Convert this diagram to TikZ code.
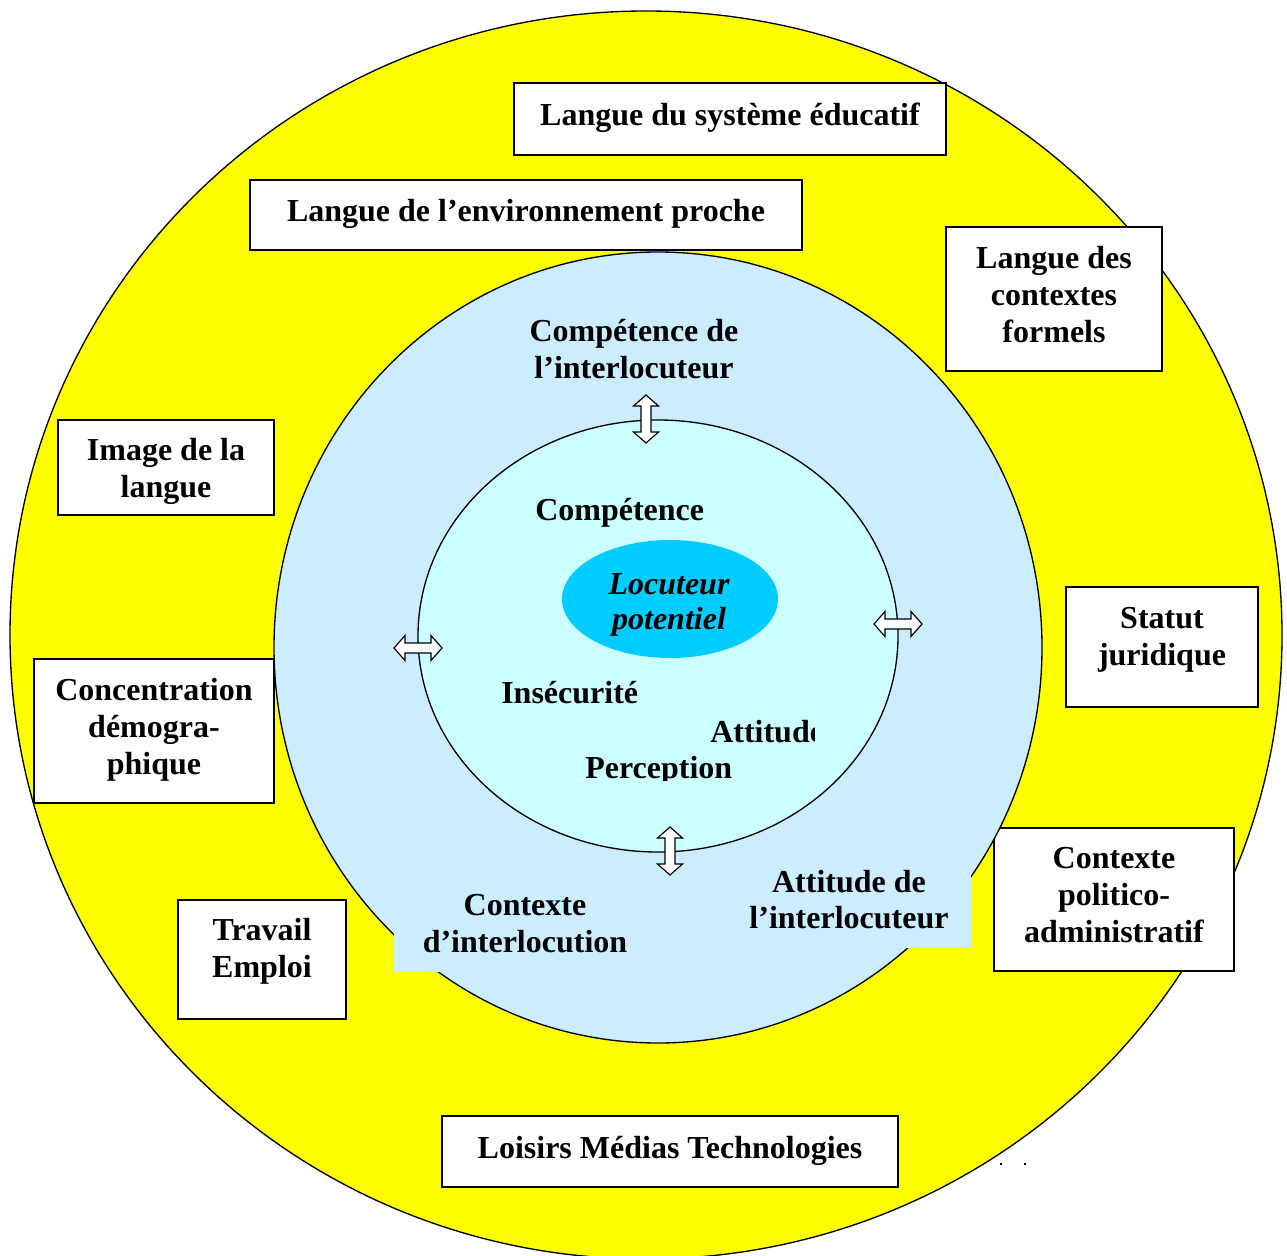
\documentclass[tikz,border=0pt]{standalone}
\usepackage{fontspec}
\setmainfont{Liberation Serif}
\usetikzlibrary{fit,shapes.geometric}
\definecolor{yel}{HTML}{FFFF00}
\definecolor{blu}{HTML}{CCECFF}
\definecolor{cya}{HTML}{CCFFFF}
\definecolor{core}{HTML}{00CCFF}
\newcommand\dblarrowV[1]{%
  \draw[line width=0.9pt, fill=white, shift={#1}]
    (0,-24) -- (12.5,-13) -- (5,-13) -- (5,13) -- (12.5,13) -- (0,24)
    -- (-12.5,13) -- (-5,13) -- (-5,-13) -- (-12.5,-13) -- cycle;}
\newcommand\dblarrowH[1]{%
  \draw[line width=0.9pt, fill=white, shift={#1}]
    (-24,0) -- (-13,12.5) -- (-13,5) -- (13,5) -- (13,12.5) -- (24,0)
    -- (13,-12.5) -- (13,-5) -- (-13,-5) -- (-13,-12.5) -- cycle;}
\begin{document}
\begin{tikzpicture}[x=0.75pt,y=-0.75pt,
  txt/.style={font=\bfseries\fontsize{24}{27.75}\selectfont, align=center, inner sep=0},
  box/.style={draw, line width=1.1pt, fill=white, inner sep=0},
  ring/.style={draw, line width=1pt}]
\useasboundingbox (0,0) rectangle (1287,1255);
% outer yellow ring
\filldraw[ring, fill=yel] (646,635) ellipse [x radius=636, y radius=624];
% boxes
\node[box, fit={(514,83)(946,155)}] (educ) {};
\node[box, fit={(250,180)(802,250)}] (env) {};
\node[box, fit={(946,227)(1162,371)}] (form) {};
\node[box, fit={(58,420)(274,515)}] (img) {};
\node[box, fit={(34,659)(274,803)}] (demo) {};
\node[box, fit={(1066,587)(1258,707)}] (stat) {};
\node[box, fit={(994,828)(1234,971)}] (poli) {};
\node[box, fit={(178,900)(346,1019)}] (trav) {};
\node[box, fit={(442,1116)(898,1187)}] (lois) {};
\node[txt, anchor=base] (educT) at (730,126) {Langue du système éducatif};
\node[txt, anchor=base] (envT) at (526,222) {Langue de l’environnement proche};
\node[txt, anchor=base] (formT) at (1054,342) {Langue des\\contextes\\formels};
\node[txt, anchor=base] (imgT) at (166,497) {Image de la\\langue};
\node[txt, anchor=base] (demoT) at (154,774) {Concentration\\démogra-\\phique};
\node[txt, anchor=base] (statT) at (1162,665) {Statut\\juridique};
\node[txt, anchor=base] (poliT) at (1114,942) {Contexte\\politico-\\administratif};
\node[txt, anchor=base] (travT) at (262,977) {Travail\\Emploi};
\node[txt, anchor=base] (loisT) at (670,1158) {Loisirs Médias Technologies};
% blue ring
\filldraw[ring, fill=blu] (658,647.5) ellipse [x radius=384, y radius=395.5];
\fill[blu] (394,890) rectangle (650,972);
\fill[blu] (740,870) rectangle (971,948);
\node[txt, anchor=base] (ctxA) at (525,915) {Contexte};
\node[txt, anchor=base] (ctxB) at (525,952) {d’interlocution};
\node[txt, anchor=base] (attA) at (849,892) {Attitude de};
\node[txt, anchor=base] (attB) at (849,928) {l’interlocuteur};
\node[txt, anchor=base] (compA) at (634,341) {Compétence de};
\node[txt, anchor=base] (compB) at (634,378) {l’interlocuteur};
% inner circle
\filldraw[ring, fill=cya] (658,636) ellipse [x radius=240, y radius=216];
\node[ellipse, fill=core, inner sep=0, minimum width=162pt, minimum height=88.5pt] (loc) at (670,599) {};
\node[txt, anchor=base, font=\bfseries\itshape\fontsize{24}{27.75}\selectfont] (locA) at (669,594) {Locuteur};
\node[txt, anchor=base, font=\bfseries\itshape\fontsize{24}{27.75}\selectfont] (locB) at (669,629) {potentiel};
\node[txt, anchor=base west] (comp) at (535,520) {Compétence};
\node[txt, anchor=base west] (inse) at (501,703) {Insécurité};
\begin{scope}
  \clip (700,700) rectangle (814,770);
  \node[txt, anchor=base west] (atti) at (710,742) {Attitude};
\end{scope}
\begin{scope}
  \clip (570,740) rectangle (760,780);
  \node[txt, anchor=base west] (perc) at (585,778) {Perception};
\end{scope}
% arrows
\dblarrowV{(646,419)}
\dblarrowV{(670,851)}
\dblarrowH{(418,648)}
\dblarrowH{(898,624)}
% tiny dots
\fill (999.5,1162.5) rectangle (1001.5,1164.5);
\fill (1023.5,1162.5) rectangle (1025.5,1164.5);
\end{tikzpicture}
\end{document}
